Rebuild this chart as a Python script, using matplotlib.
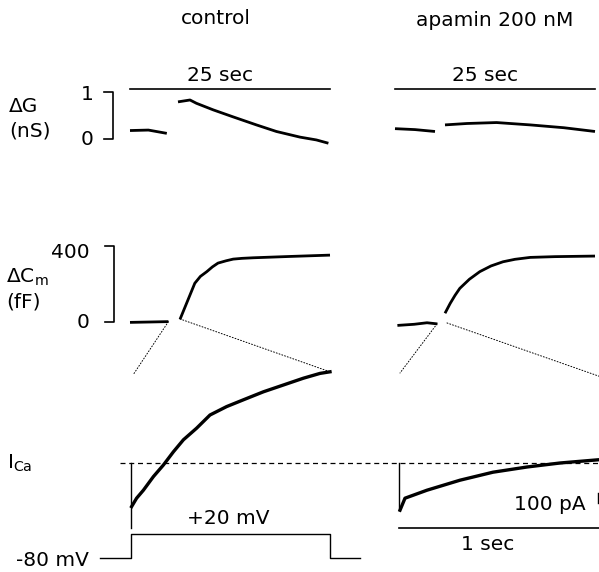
import matplotlib.pyplot as plt
from matplotlib.patches import ConnectionPatch

W, H = 599, 572
FS = 14.5

# conductance change dG (nS) vs time (s), 25 s window
g_ctrl_pre_t = [0, 2.3, 4.6]
g_ctrl_pre = [0.18, 0.19, 0.12]
g_ctrl_post_t = [6.0, 7.5, 8.3, 10.4, 12.9, 15.8, 18.3, 21.25, 23.3, 24.8]
g_ctrl_post = [0.79, 0.83, 0.76, 0.62, 0.47, 0.30, 0.16, 0.04, -0.02, -0.09]
g_apa_pre_t = [0, 2.5, 5.0]
g_apa_pre = [0.22, 0.20, 0.16]
g_apa_post_t = [6.25, 9.0, 12.7, 16.9, 21.1, 25.0]
g_apa_post = [0.30, 0.33, 0.35, 0.30, 0.24, 0.16]

# capacitance change dCm (fF) vs time (s)
cm_ctrl_pre_t = [0, 2.5, 4.8]
cm_ctrl_pre = [-2, 0, 2]
cm_ctrl_post_t = [6.25, 8.1, 8.8, 9.6, 10.3, 11.0, 12.0, 12.9, 14.0, 15.4, 20.0, 25.0]
cm_ctrl_post = [14, 204, 240, 265, 290, 310, 322, 331, 335, 338, 345, 352]
cm_apa_pre_t = [0.3, 2.4, 4.0, 5.3]
cm_apa_pre = [-18, -12, -4, -10]
cm_apa_post_t = [6.25, 6.9, 7.5, 8.1, 9.3, 10.6, 12.0, 13.5, 15.0, 16.9, 20.0, 25.0]
cm_apa_post = [46, 98, 140, 177, 225, 265, 295, 317, 330, 340, 344, 347]

# calcium current I_Ca (pA) vs time (s) during the 1 s step
ica_ctrl_t = [0.003, 0.028, 0.062, 0.112, 0.162, 0.212, 0.262, 0.328, 0.395, 0.478,
              0.562, 0.662, 0.762, 0.862, 0.945, 0.995]
ica_ctrl = [-109, -88, -68, -34, -5, 28, 58, 87, 120, 141, 158, 178, 195, 212, 224, 228]
ica_apa_t = [0.005, 0.03, 0.14, 0.305, 0.47, 0.64, 0.805, 0.995]
ica_apa = [-118, -88, -68, -43, -23, -10, 0, 8]
ica_transient = [-162, -118]

# voltage protocol (mV)
v_t = [-0.155, 0, 0, 0.995, 0.995, 1.145]
v_mv = [-80, -80, 20, 20, -80, -80]

fig = plt.figure(figsize=(W / 100, H / 100), dpi=100)


def panel(left, right, top, bottom, x0, xs, y0, ys):
    # axes placed in pixel coords; x0/y0 = pixel of data zero, xs/ys = px per unit
    ax = fig.add_axes([left / W, 1 - bottom / H, (right - left) / W, (bottom - top) / H])
    ax.set_xlim((left - x0) / xs, (right - x0) / xs)
    ax.set_ylim((y0 - bottom) / ys, (y0 - top) / ys)
    ax.axis("off")
    return ax


def ptext(x, y, s, **kw):
    fig.text(x / W, 1 - y / H, s, fontsize=FS, va="center", **kw)


trace = dict(color="black", lw=2.0, solid_capstyle="butt")
bar = dict(color="black", lw=1.2, clip_on=False)

# --- conductance
g1 = panel(125, 335, 60, 160, 130, 8, 139, 47)
g2 = panel(390, 599, 60, 160, 395, 8, 139, 47)
g1.plot(g_ctrl_pre_t, g_ctrl_pre, **trace)
g1.plot(g_ctrl_post_t, g_ctrl_post, **trace)
g2.plot(g_apa_pre_t, g_apa_pre, **trace)
g2.plot(g_apa_post_t, g_apa_post, **trace)
for ax in (g1, g2):
    ax.plot([0, 25], [1.064, 1.064], **bar)
    ax.text(11.2, 1.35, "25 sec", ha="center", va="center", fontsize=FS)
g1.plot([-3.25, -2.125, -2.125, -3.25], [1, 1, 0, 0], **bar)
g1.text(-4.6, 0.95, "1", ha="right", va="center", fontsize=FS)
g1.text(-4.6, 0.0, "0", ha="right", va="center", fontsize=FS)

# --- capacitance
c1 = panel(125, 335, 230, 340, 130, 8, 322, 0.19)
c2 = panel(390, 599, 230, 340, 395, 8, 322, 0.19)
c1.plot(cm_ctrl_pre_t, cm_ctrl_pre, **trace)
c1.plot(cm_ctrl_post_t, cm_ctrl_post, **trace)
c2.plot(cm_apa_pre_t, cm_apa_pre, **trace)
c2.plot(cm_apa_post_t, cm_apa_post, **trace)
c1.plot([-3.1, -2.0, -2.0, -3.1], [400, 400, 0, 0], **bar)
c1.text(-5.0, 368, "400", ha="right", va="center", fontsize=FS)
c1.text(-5.0, 0, "0", ha="right", va="center", fontsize=FS)

# --- calcium current
i1 = panel(100, 340, 360, 535, 131, 200, 463, 0.4)
i2 = panel(390, 599, 360, 535, 399, 200, 463, 0.4)
i1.plot([-0.055, 2.34], [0, 0], color="black", lw=0.9, ls=(0, (4, 3)), clip_on=False)
i1.plot([0, 0], [0, ica_transient[0]], color="black", lw=1.0)
i2.plot([0, 0], [0, ica_transient[1]], color="black", lw=1.0)
i1.plot(ica_ctrl_t, ica_ctrl, color="black", lw=2.4)
i2.plot(ica_apa_t, ica_apa, color="black", lw=2.4)
i2.plot([0, 1.0], [-162.5, -162.5], **bar)
i2.plot([0.997, 0.997], [-75, -100], color="black", lw=1.0, clip_on=False)

# zoom connectors from the gap in the Cm trace to the current sweep
for cax, iax, a_left, b_left, a_right, b_right in [
    (c1, i1, (4.8, 2), (0.01, 220), (6.25, 16), (0.995, 228)),
    (c2, i2, (5.25, -10), (0.005, 225), (6.5, -5), (1.0, 217)),
]:
    for a, b in [(a_left, b_left), (a_right, b_right)]:
        cp = ConnectionPatch(xyA=a, coordsA=cax.transData, xyB=b, coordsB=iax.transData,
                             color="black", lw=0.7, ls=(0, (1, 2)))
        fig.add_artist(cp)

# --- voltage step (-80 mV sits at y=558 px, +20 mV at 534 px)
v1 = panel(90, 370, 520, 572, 131, 200, 538.8, 0.24)
v1.plot(v_t, v_mv, color="black", lw=1.0)

# --- text
ptext(216, 19, "control", ha="center")
ptext(495, 20, "apamin 200 nM", ha="center")
ptext(9, 107, "\u0394G")
ptext(9, 131, "(nS)")
ptext(6, 277, "\u0394C$_\\mathregular{m}$")
ptext(6, 302, "(fF)")
ptext(7, 463, "I$_\\mathregular{Ca}$")
ptext(228, 518, "+20 mV", ha="center")
ptext(16, 560, "-80 mV")
ptext(488, 545, "1 sec", ha="center")
ptext(550, 505, "100 pA", ha="center")

fig.savefig("out.png", dpi=100, facecolor="white")
